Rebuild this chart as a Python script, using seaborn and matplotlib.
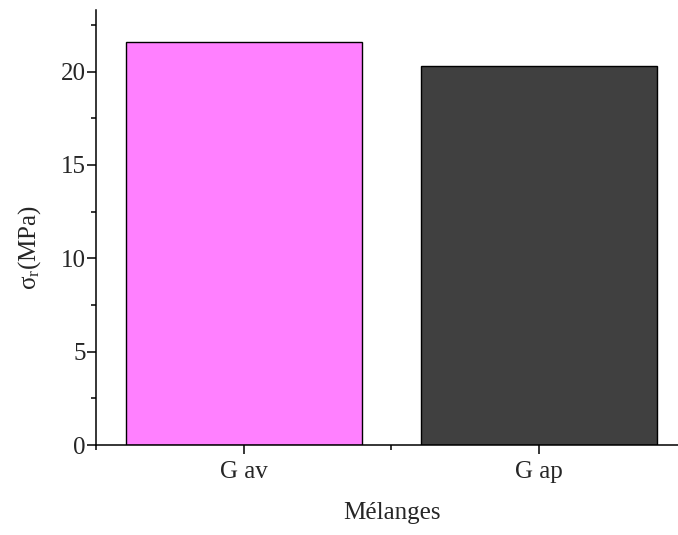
import matplotlib
matplotlib.use("Agg")
import matplotlib.pyplot as plt
import seaborn as sns
from matplotlib.ticker import MultipleLocator
import pandas as pd

categories = ["G av", "G ap"]
strength = [21.6, 20.3]
colors = ["#FF80FF", "#404040"]

sns.set_style("ticks")
plt.rcParams["font.family"] = ["Liberation Serif", "DejaVu Serif"]
plt.rcParams["mathtext.fontset"] = "custom"
plt.rcParams["mathtext.rm"] = "Liberation Serif"
plt.rcParams["mathtext.it"] = "Liberation Serif"

df = pd.DataFrame({"Mélanges": categories, "sigma": strength})

fig = plt.figure(figsize=(6.78, 5.35), dpi=100)
ax = fig.add_axes([96 / 678, 1 - 445 / 535, (687 - 96) / 678, (445 - 10) / 535])

sns.barplot(data=df, x="Mélanges", y="sigma", hue="Mélanges",
            palette=colors, width=0.8, edgecolor="black", linewidth=1.0,
            saturation=1, legend=False, ax=ax)

ax.set_xlim(-0.5, 1.5)
ax.set_ylim(0, 23.3)
ax.yaxis.set_major_locator(MultipleLocator(5))
ax.yaxis.set_minor_locator(MultipleLocator(2.5))
ax.xaxis.set_minor_locator(MultipleLocator(1.0, offset=0.5))

for side in ["top", "right"]:
    ax.spines[side].set_visible(False)
for side in ["left", "bottom"]:
    ax.spines[side].set_linewidth(1.1)
    ax.spines[side].set_color("black")

ax.tick_params(axis="both", which="major", direction="out", length=6.5,
               width=1.1, labelsize=18, color="black")
ax.tick_params(axis="both", which="minor", direction="out", length=3.3,
               width=1.1, color="black")
ax.tick_params(axis="y", which="major", pad=1)
ax.tick_params(axis="x", which="major", pad=5)

ax.set_xlabel("Mélanges", fontsize=18, labelpad=14)
ax.set_ylabel(r"$\mathregular{\sigma_r}$(MPa)", fontsize=18)
ax.yaxis.set_label_coords(-0.09, 0.453)

fig.savefig("out.png", dpi=100)
